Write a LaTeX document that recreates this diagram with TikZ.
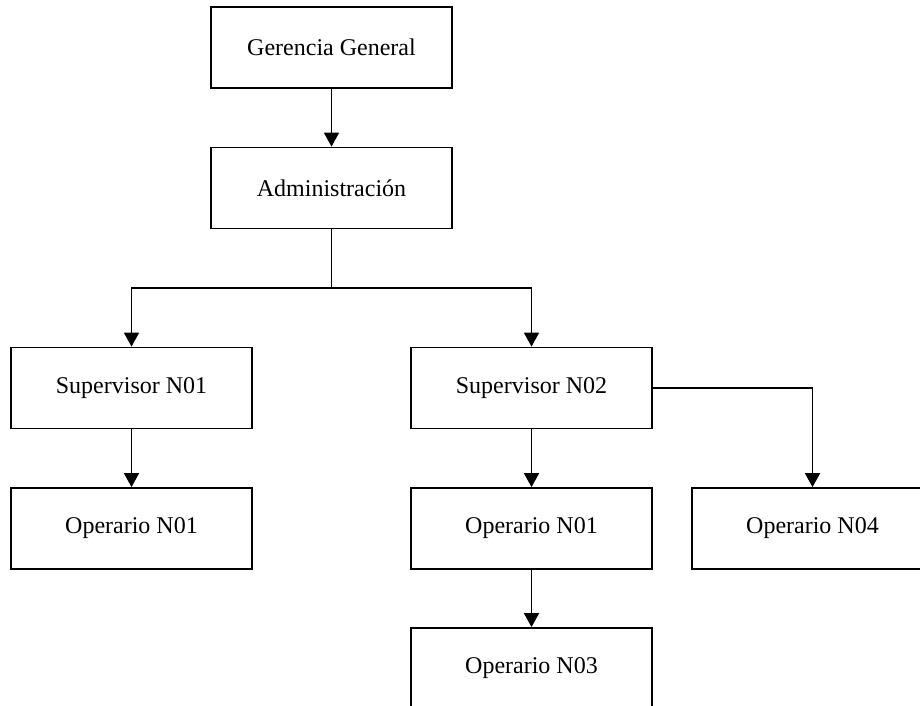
\documentclass[tikz,border=0pt]{standalone}
\usepackage{fontspec}
\setmainfont{Liberation Serif}
\usetikzlibrary{arrows.meta}
\begin{document}
\begin{tikzpicture}[x=1bp,y=-1bp,
  box/.style={draw=black, line width=1.8bp, fill=white, minimum width=241bp, minimum height=81bp,
    inner sep=0pt, font=\fontsize{24bp}{28bp}\selectfont},
  link/.style={draw=black, line width=1.8bp},
  arr/.style={link, -{Triangle[width=15bp,length=14bp]}}]
\useasboundingbox (0,0) rectangle (920,706);
\clip (0,0) rectangle (920,706);
\fill[white] (0,0) rectangle (920,706);
\node[box] (gg) at (331.5,47.5) {Gerencia General};
\node[box] (adm) at (331.5,188) {Administración};
\node[box] (s1) at (131.5,388) {Supervisor N01};
\node[box] (s2) at (531.5,388) {Supervisor N02};
\node[box] (o1l) at (131.5,528.5) {Operario N01};
\node[box] (o1m) at (531.5,528.5) {Operario N01};
\node[box] (o4) at (812.5,528.5) {Operario N04};
\node[box] (o3) at (531.5,668.5) {Operario N03};
\coordinate (j) at (331.5,288);
\draw[arr] (gg.south) -- (adm.north);
\draw[link] (adm.south) -- (j);
\draw[arr] (j) -| (s1.north);
\draw[arr] (j) -| (s2.north);
\draw[arr] (s1.south) -- (o1l.north);
\draw[arr] (s2.south) -- (o1m.north);
\draw[arr] (s2.east) -| (o4.north);
\draw[arr] (o1m.south) -- (o3.north);
\end{tikzpicture}
\end{document}
